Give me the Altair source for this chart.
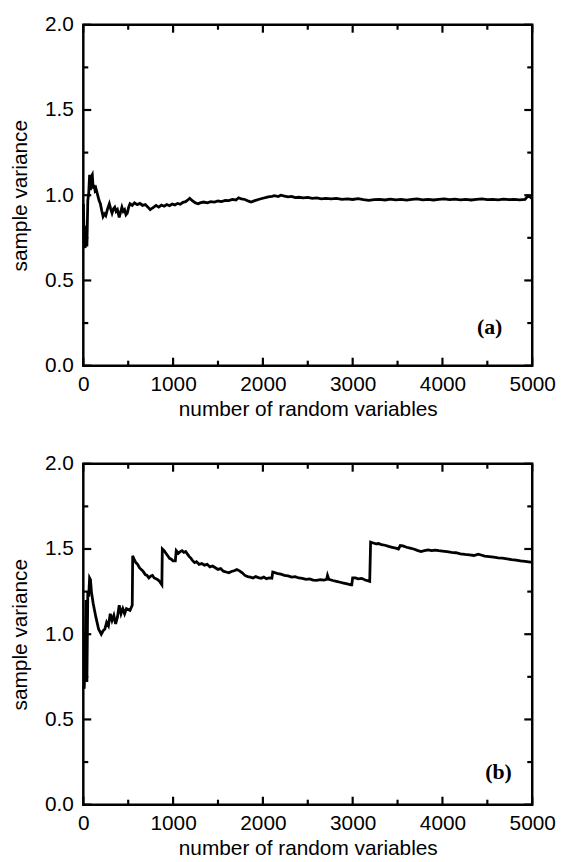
import altair as alt
import pandas as pd

# ---- data ----
n_a = [1, 10, 20, 30, 40, 50, 60, 70, 80, 90, 100, 110, 120, 130, 140, 160, 175, 190, 205, 220,
       235, 250, 270, 290, 305, 320, 335, 350, 365, 380, 400, 415, 430, 445, 460, 475, 490, 505,
       520, 545, 570, 600, 630, 660, 690, 720, 745, 770, 810, 840, 870, 900, 930, 960, 990, 1020,
       1050, 1080, 1110, 1140, 1170, 1185, 1210, 1250, 1280, 1300, 1340, 1380, 1420, 1460, 1500,
       1540, 1580, 1620, 1660, 1700, 1730, 1760, 1800, 1840, 1870, 1910, 1950, 2000, 2060, 2100,
       2130, 2170, 2200, 2240, 2280, 2320, 2360, 2400, 2450, 2500, 2550, 2600, 2650, 2700, 2760,
       2820, 2880, 2940, 3000, 3060, 3120, 3180, 3240, 3300, 3360, 3420, 3480, 3540, 3600, 3660,
       3720, 3780, 3840, 3900, 3960, 4020, 4080, 4140, 4200, 4260, 4320, 4380, 4440, 4500, 4560,
       4620, 4680, 4740, 4800, 4860, 4920, 4950, 4975, 5000]
v_a = [0.95, 0.72, 0.69, 0.82, 0.70, 0.97, 1.01, 1.12, 1.03, 1.11, 1.12, 1.04, 1.06, 1.03, 1.04,
       1.0, 0.97, 0.95, 0.91, 0.875, 0.89, 0.88, 0.92, 0.95, 0.92, 0.895, 0.92, 0.93, 0.905, 0.915,
       0.87, 0.90, 0.93, 0.905, 0.915, 0.885, 0.895, 0.93, 0.95, 0.94, 0.955, 0.945, 0.952, 0.94,
       0.945, 0.93, 0.915, 0.925, 0.94, 0.93, 0.942, 0.935, 0.945, 0.938, 0.948, 0.943, 0.952,
       0.947, 0.958, 0.962, 0.975, 0.982, 0.97, 0.955, 0.95, 0.955, 0.96, 0.955, 0.962, 0.96, 0.966,
       0.963, 0.97, 0.968, 0.975, 0.972, 0.985, 0.978, 0.975, 0.965, 0.96, 0.968, 0.975, 0.982,
       0.99, 0.993, 0.997, 0.992, 1.0, 0.995, 0.99, 0.993, 0.986, 0.988, 0.984, 0.987, 0.982, 0.984,
       0.979, 0.982, 0.978, 0.981, 0.976, 0.979, 0.975, 0.98, 0.974, 0.97, 0.974, 0.976, 0.972,
       0.977, 0.973, 0.976, 0.971, 0.975, 0.978, 0.973, 0.976, 0.972, 0.975, 0.978, 0.974, 0.977,
       0.973, 0.976, 0.972, 0.976, 0.978, 0.974, 0.976, 0.973, 0.977, 0.974, 0.976, 0.973, 0.975,
       0.995, 0.99, 0.98]

n_b = [1, 10, 20, 30, 35, 40, 50, 60, 70, 80, 90, 110, 140, 170, 200, 220, 240, 260, 280, 300,
       320, 340, 360, 380, 400, 420, 440, 460, 480, 520, 545, 550, 565, 585, 605, 625, 645, 665,
       690, 710, 730, 750, 770, 790, 810, 830, 850, 875, 880, 900, 920, 940, 960, 980, 1000, 1025,
       1035, 1060, 1080, 1100, 1120, 1140, 1160, 1180, 1200, 1220, 1240, 1260, 1290, 1320, 1350,
       1380, 1410, 1440, 1470, 1500, 1530, 1560, 1590, 1620, 1650, 1680, 1710, 1740, 1770, 1800,
       1830, 1860, 1890, 1920, 1950, 1980, 2010, 2040, 2070, 2100, 2110, 2140, 2170, 2200, 2240,
       2280, 2320, 2360, 2400, 2440, 2480, 2520, 2560, 2600, 2640, 2680, 2710, 2720, 2735, 2780,
       2820, 2860, 2900, 2940, 2980, 2990, 3000, 3030, 3060, 3100, 3140, 3190, 3200, 3230, 3260,
       3290, 3320, 3360, 3400, 3440, 3480, 3510, 3530, 3560, 3600, 3640, 3680, 3720, 3760, 3800,
       3840, 3880, 3920, 3960, 4000, 4050, 4100, 4150, 4200, 4250, 4300, 4350, 4400, 4430, 4470,
       4520, 4570, 4620, 4670, 4720, 4770, 4820, 4870, 4920, 4960, 5000]
v_b = [0.70, 0.68, 0.85, 1.20, 0.95, 0.72, 1.25, 1.22, 1.33, 1.32, 1.25, 1.18, 1.10, 1.03, 1.0,
       1.02, 1.03, 1.07, 1.05, 1.12, 1.08, 1.11, 1.06, 1.10, 1.17, 1.12, 1.15, 1.12, 1.15, 1.14,
       1.17, 1.46, 1.44, 1.42, 1.41, 1.39, 1.38, 1.37, 1.35, 1.345, 1.33, 1.34, 1.345, 1.33, 1.325,
       1.32, 1.31, 1.29, 1.50, 1.49, 1.475, 1.46, 1.445, 1.44, 1.43, 1.43, 1.49, 1.475, 1.485, 1.49,
       1.48, 1.485, 1.47, 1.455, 1.445, 1.43, 1.42, 1.425, 1.41, 1.415, 1.405, 1.41, 1.395, 1.40,
       1.39, 1.38, 1.385, 1.37, 1.365, 1.36, 1.368, 1.372, 1.38, 1.372, 1.36, 1.345, 1.338, 1.335,
       1.33, 1.338, 1.332, 1.328, 1.335, 1.326, 1.33, 1.328, 1.365, 1.36, 1.355, 1.352, 1.345,
       1.342, 1.335, 1.338, 1.33, 1.328, 1.322, 1.325, 1.318, 1.316, 1.32, 1.318, 1.322, 1.345,
       1.322, 1.315, 1.31, 1.305, 1.30, 1.295, 1.29, 1.29, 1.33, 1.33, 1.325, 1.328, 1.318, 1.31,
       1.54, 1.535, 1.53, 1.532, 1.525, 1.522, 1.515, 1.51, 1.505, 1.50, 1.52, 1.518, 1.51, 1.505,
       1.50, 1.492, 1.485, 1.49, 1.495, 1.49, 1.493, 1.49, 1.488, 1.485, 1.48, 1.478, 1.472, 1.468,
       1.465, 1.462, 1.47, 1.465, 1.458, 1.455, 1.452, 1.448, 1.446, 1.442, 1.438, 1.435, 1.43,
       1.428, 1.425, 1.422]

x_major = [0, 1000, 2000, 3000, 4000, 5000]
x_minor = [500, 1500, 2500, 3500, 4500]
y_major = [0.0, 0.5, 1.0, 1.5, 2.0]
y_minor = [0.25, 0.75, 1.25, 1.75]
panel_labels = ["(a)", "(b)"]

W, H = 453, 344
FONT = "Liberation Sans"

xscale = alt.Scale(domain=[0, 5000], nice=False, zero=False)
yscale = alt.Scale(domain=[0, 2], nice=False, zero=False)


def panel(n, v, label, lab_x, lab_y):
    df = pd.DataFrame({"n": n, "v": v})
    xax = alt.Axis(values=x_major, format="d", ticks=False, domain=False, grid=False,
                   labelFlush=False, labelOverlap=False,
                   title="number of random variables", labelPadding=8, titlePadding=4)
    yax = alt.Axis(values=y_major, format=".1f", ticks=False, domain=False, grid=False,
                   labelFlush=False, labelOverlap=False,
                   title="sample variance", labelPadding=10, titlePadding=14)
    line = alt.Chart(df).mark_line(color="black", strokeWidth=2.8).encode(
        x=alt.X("n:Q", scale=xscale, axis=xax),
        y=alt.Y("v:Q", scale=yscale, axis=yax),
    )
    xmaj = pd.DataFrame({"t": x_major})
    xmin = pd.DataFrame({"t": x_minor})
    ymaj = pd.DataFrame({"t": y_major})
    ymin = pd.DataFrame({"t": y_minor})
    layers = [line]
    for d, L in [(xmaj, 8), (xmin, 5)]:
        layers.append(alt.Chart(d).mark_rule(color="black", strokeWidth=2.2).encode(
            x=alt.X("t:Q", scale=xscale), y=alt.value(0), y2=alt.value(L)))
        layers.append(alt.Chart(d).mark_rule(color="black", strokeWidth=2.2).encode(
            x=alt.X("t:Q", scale=xscale), y=alt.value(H), y2=alt.value(H - L)))
    for d, L in [(ymaj, 8), (ymin, 5)]:
        layers.append(alt.Chart(d).mark_rule(color="black", strokeWidth=2.2).encode(
            y=alt.Y("t:Q", scale=yscale), x=alt.value(0), x2=alt.value(L)))
        layers.append(alt.Chart(d).mark_rule(color="black", strokeWidth=2.2).encode(
            y=alt.Y("t:Q", scale=yscale), x=alt.value(W), x2=alt.value(W - L)))
    txt = alt.Chart(pd.DataFrame({"lab": [label]})).mark_text(
        font="Liberation Serif", fontWeight="bold", fontSize=22, color="black",
        align="center", baseline="middle").encode(
        text="lab:N", x=alt.value(lab_x), y=alt.value(lab_y))
    layers.append(txt)
    return alt.layer(*layers).properties(width=W, height=H)


top = panel(n_a, v_a, panel_labels[0], 410, 305)
bot = panel(n_b, v_b, panel_labels[1], 419, 311)

chart = alt.vconcat(top, bot, spacing=30).properties(
    padding={"left": 0, "top": 0, "right": 0, "bottom": 5}
).configure_view(stroke="black", strokeWidth=2.5).configure_axis(
    labelFont=FONT, titleFont=FONT, labelFontSize=21, titleFontSize=21,
    labelColor="black", titleColor="black", titleFontWeight="normal"
)

chart.save("out.html", embed_options={"renderer": "svg", "actions": False})
